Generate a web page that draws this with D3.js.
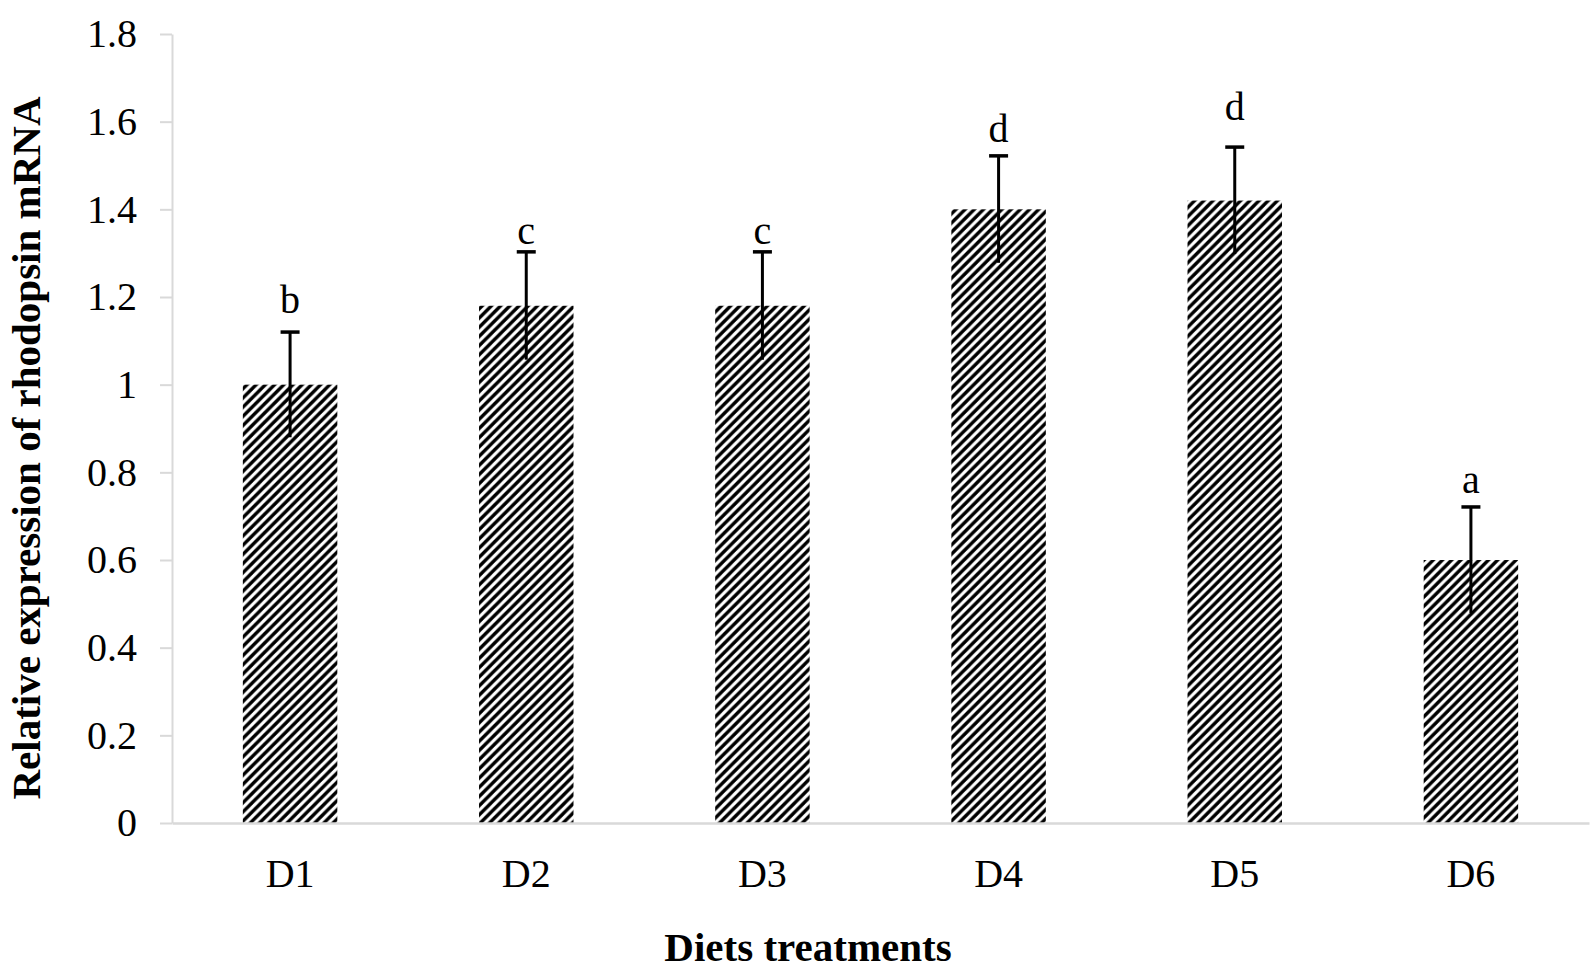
<!DOCTYPE html>
<html>
<head>
<meta charset="utf-8">
<script src="https://cdn.jsdelivr.net/npm/d3@7"></script>
<style>
  body { margin: 0; background: #fff; }
  svg { display: block; font-family: "Liberation Serif", "Times New Roman", serif; }
</style>
</head>
<body>
<div id="canvas"></div>
<script>
// data
const diets = ["D1", "D2", "D3", "D4", "D5", "D6"];
const expression = [1.0, 1.18, 1.18, 1.40, 1.42, 0.60];
const errors = [0.12, 0.123, 0.123, 0.122, 0.122, 0.121];
const letters = ["b", "c", "c", "d", "d", "a"];
// where each significance letter sits (data units, text baseline)
const letterAt = [1.164, 1.321, 1.321, 1.554, 1.604, 0.753];
const yTicks = [0, 0.2, 0.4, 0.6, 0.8, 1, 1.2, 1.4, 1.6, 1.8];
const yTickLabels = ["0", "0.2", "0.4", "0.6", "0.8", "1", "1.2", "1.4", "1.6", "1.8"];

const width = 1591;
const height = 970;
const margin = { top: 34, left: 172, bottom: 147, right: 2 };
const iwidth = width - margin.left - margin.right;
const iheight = height - margin.top - margin.bottom;

const data = diets.map((d, i) => ({
  name: d,
  value: expression[i],
  err: errors[i],
  letter: letters[i],
  letterY: letterAt[i],
}));

const svg = d3
  .select("#canvas")
  .append("svg")
  .attr("width", width)
  .attr("height", height);

// upward diagonal hatch, like Excel's "wide upward diagonal"
const p = 9.2; // tile size
const b = 4.9; // black band width along x
const pat = svg
  .append("defs")
  .append("pattern")
  .attr("id", "hatch")
  .attr("patternUnits", "userSpaceOnUse")
  .attr("width", p)
  .attr("height", p);
pat.append("rect").attr("width", p).attr("height", p).attr("fill", "#fff");
// bands where x+y falls in [0,b) and [p,p+b)
pat
  .append("path")
  .attr("d", `M0,0 L${b},0 L0,${b} Z M${p},0 L${p},${b} L${b},${p} L0,${p} Z`)
  .attr("fill", "#000");

const g = svg
  .append("g")
  .attr("transform", `translate(${margin.left},${margin.top})`);

const x = d3
  .scaleBand()
  .domain(diets)
  .range([0, iwidth])
  .paddingInner(0.6)
  .paddingOuter(0.3);

const y = d3.scaleLinear().domain([0, 1.8]).range([iheight, 0]);

// y axis
const yAxis = g
  .append("g")
  .classed("y--axis", true)
  .call(
    d3
      .axisLeft(y)
      .tickValues(yTicks)
      .tickFormat((d, i) => yTickLabels[i])
      .tickSize(12)
      .tickSizeOuter(0)
      .tickPadding(23)
  );
yAxis.select(".domain").attr("stroke", "#d9d9d9").attr("stroke-width", 2);
yAxis.selectAll(".tick line").attr("stroke", "#d9d9d9").attr("stroke-width", 2);
yAxis
  .selectAll(".tick text")
  .attr("fill", "#000")
  .style("font-size", "40px")
  .style("font-family", "Liberation Serif");

// bars
g.selectAll("rect.bar")
  .data(data)
  .enter()
  .append("rect")
  .attr("class", "bar")
  .attr("x", (d) => x(d.name))
  .attr("y", (d) => y(d.value))
  .attr("width", x.bandwidth())
  .attr("height", (d) => y(0) - y(d.value))
  .attr("fill", "url(#hatch)");

// x axis
const xAxis = g
  .append("g")
  .classed("x--axis", true)
  .attr("transform", `translate(0, ${iheight})`)
  .call(d3.axisBottom(x).tickSize(0).tickSizeOuter(0));
xAxis.select(".domain").attr("stroke", "#d9d9d9").attr("stroke-width", 2.5);
xAxis
  .selectAll(".tick text")
  .attr("fill", "#000")
  .attr("y", 64)
  .attr("dy", null)
  .style("font-size", "40px")
  .style("font-family", "Liberation Serif");

// error bars (upper cap only shows)
const eb = g
  .selectAll("g.err")
  .data(data)
  .enter()
  .append("g")
  .attr("class", "err")
  .attr("transform", (d) => `translate(${x(d.name) + x.bandwidth() / 2},0)`);

eb.append("line")
  .attr("x1", 0)
  .attr("x2", 0)
  .attr("y1", (d) => y(d.value - d.err))
  .attr("y2", (d) => y(d.value + d.err))
  .attr("stroke", "#000")
  .attr("stroke-width", 3);

eb.append("line")
  .attr("x1", -9.5)
  .attr("x2", 9.5)
  .attr("y1", (d) => y(d.value + d.err))
  .attr("y2", (d) => y(d.value + d.err))
  .attr("stroke", "#000")
  .attr("stroke-width", 3.5);

// significance letters
g.selectAll("text.letter")
  .data(data)
  .enter()
  .append("text")
  .attr("class", "letter")
  .attr("x", (d) => x(d.name) + x.bandwidth() / 2)
  .attr("y", (d) => y(d.letterY))
  .attr("text-anchor", "middle")
  .style("font-size", "40px")
  .text((d) => d.letter);

// axis titles
svg
  .append("text")
  .attr("text-anchor", "middle")
  .attr("x", 808)
  .attr("y", 961)
  .style("font-size", "41px")
  .style("font-weight", "bold")
  .text("Diets treatments");

svg
  .append("text")
  .attr("text-anchor", "middle")
  .attr("transform", "translate(40,448) rotate(-90)")
  .style("font-size", "41px")
  .style("font-weight", "bold")
  .text("Relative expression of rhodopsin mRNA");
</script>
</body>
</html>
